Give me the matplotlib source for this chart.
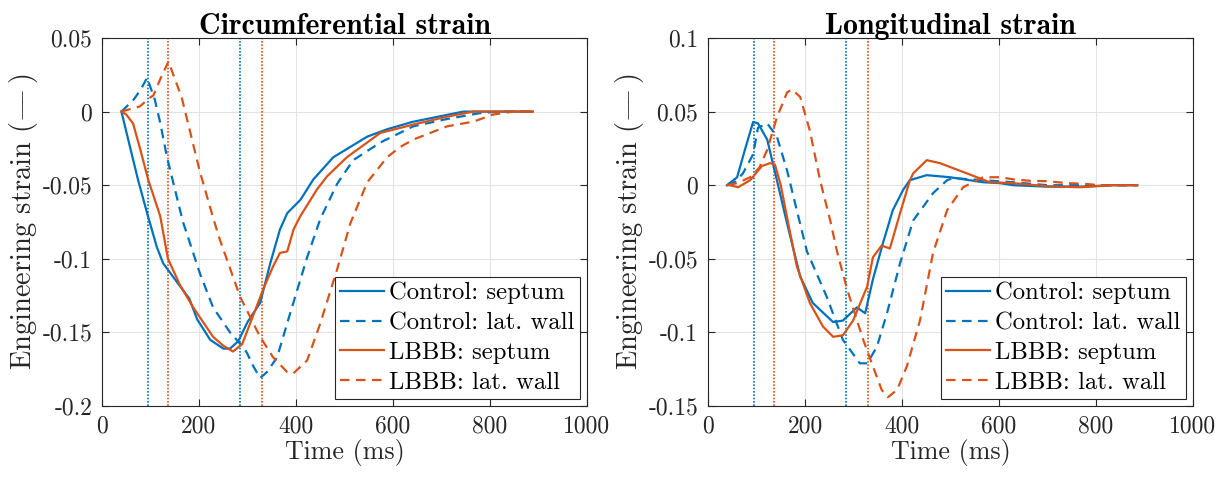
import matplotlib
matplotlib.use("Agg")
import matplotlib.pyplot as plt
from matplotlib.ticker import FuncFormatter

# --- data ---
# circumferential strain
circ_ctrl_sep_t = [40, 57, 74, 93, 100, 113, 126, 155, 180, 196, 223, 250, 264, 281, 300, 326, 347, 367, 382, 409, 436, 477, 547, 588, 640, 700, 745, 888]
circ_ctrl_sep = [0, -0.023, -0.046, -0.069, -0.077, -0.092, -0.103, -0.116, -0.127, -0.141, -0.155, -0.161, -0.161, -0.156, -0.143, -0.13, -0.103, -0.08, -0.069, -0.06, -0.046, -0.031, -0.017, -0.012, -0.007, -0.003, 0, 0]

circ_ctrl_lat_t = [40, 65, 80, 93, 109, 120, 134, 167, 202, 229, 264, 291, 299, 312, 326, 340, 361, 388, 423, 450, 485, 518, 574, 642, 712, 780, 821, 888]
circ_ctrl_lat = [0, 0.008, 0.015, 0.023, 0.008, -0.0075, -0.031, -0.075, -0.11, -0.133, -0.150, -0.160, -0.164, -0.173, -0.181, -0.177, -0.167, -0.137, -0.099, -0.073, -0.049, -0.033, -0.021, -0.010, -0.005, -0.001, 0, 0]

circ_lbbb_sep_t = [40, 50, 64, 80, 95, 120, 136, 161, 188, 229, 250, 270, 289, 310, 332, 353, 367, 382, 395, 409, 443, 464, 505, 574, 642, 712, 766, 888]
circ_lbbb_sep = [0, -0.002, -0.008, -0.027, -0.046, -0.071, -0.1, -0.118, -0.133, -0.153, -0.159, -0.163, -0.158, -0.14, -0.121, -0.105, -0.096, -0.095, -0.08, -0.071, -0.053, -0.044, -0.031, -0.0145, -0.0088, -0.0034, 0, 0]

circ_lbbb_lat_t = [40, 78, 99, 106, 120, 137, 164, 202, 229, 243, 285, 326, 353, 382, 394, 423, 450, 485, 512, 547, 588, 615, 642, 712, 766, 807, 848, 888]
circ_lbbb_lat = [0, 0.0035, 0.0095, 0.011, 0.022, 0.034, 0.010, -0.041, -0.072, -0.087, -0.126, -0.153, -0.167, -0.177, -0.178, -0.169, -0.144, -0.107, -0.076, -0.048, -0.031, -0.024, -0.019, -0.010, -0.0068, -0.002, 0, 0]

# longitudinal strain
long_ctrl_sep_t = [39, 60, 76, 93, 103, 122, 142, 163, 190, 216, 245, 258, 278, 307, 324, 340, 361, 381, 402, 416, 451, 499, 567, 602, 629, 699, 768, 835, 885]
long_ctrl_sep = [0, 0.0054, 0.024, 0.043, 0.042, 0.031, 0.0034, -0.026, -0.062, -0.080, -0.089, -0.093, -0.092, -0.083, -0.087, -0.064, -0.039, -0.017, -0.0034, 0.0034, 0.0068, 0.0054, 0.002, 0.0014, 0, -0.001, -0.001, 0, 0]

long_ctrl_lat_t = [40, 55, 72, 93, 103, 122, 142, 163, 183, 204, 245, 278, 313, 328, 348, 369, 396, 423, 464, 493, 505, 567, 629, 700, 885]
long_ctrl_lat = [0, 0.002, 0.008, 0.021, 0.039, 0.042, 0.033, 0.010, -0.017, -0.045, -0.076, -0.105, -0.121, -0.121, -0.110, -0.087, -0.053, -0.024, -0.0054, 0.0034, 0.0048, 0.0034, 0.002, 0.0, 0]

long_lbbb_sep_t = [40, 45, 62, 87, 111, 128, 138, 150, 163, 183, 210, 237, 258, 278, 299, 328, 340, 358, 375, 396, 416, 423, 451, 478, 534, 581, 629, 699, 767, 835, 885]
long_lbbb_sep = [0, 0, -0.0014, 0.0034, 0.013, 0.015, 0.014, 0.0, -0.022, -0.055, -0.080, -0.096, -0.103, -0.102, -0.092, -0.069, -0.049, -0.041, -0.043, -0.019, 0.003, 0.008, 0.017, 0.015, 0.008, 0.002, 0.0014, -0.0007, -0.0014, 0, 0]

long_lbbb_lat_t = [40, 60, 87, 106, 122, 142, 163, 173, 190, 210, 231, 252, 266, 287, 320, 340, 358, 371, 390, 410, 437, 464, 493, 526, 567, 602, 629, 663, 699, 740, 774, 808, 885]
long_lbbb_lat = [0, 0.0014, 0.0054, 0.012, 0.024, 0.046, 0.063, 0.065, 0.060, 0.037, 0.0034, -0.024, -0.045, -0.071, -0.105, -0.123, -0.139, -0.144, -0.139, -0.123, -0.092, -0.046, -0.017, -0.0014, 0.0054, 0.0054, 0.004, 0.003, 0.0027, 0.0014, 0.001, 0, 0]

# event times (vertical dotted lines)
ctrl_events = [95, 284]
lbbb_events = [137, 329]

titles = ["Circumferential strain", "Longitudinal strain"]
legend_labels = ["Control: septum", "Control: lat. wall", "LBBB: septum", "LBBB: lat. wall"]
yticks_circ = [0.05, 0, -0.05, -0.1, -0.15, -0.2]
yticks_long = [0.1, 0.05, 0, -0.05, -0.1, -0.15]
xticks = [0, 200, 400, 600, 800, 1000]

blue = "#0072BD"
orange = "#D95319"
axcol = "#262626"

plt.rcParams["font.family"] = "cmr10"
plt.rcParams["mathtext.fontset"] = "cm"
plt.rcParams["axes.unicode_minus"] = False

fig = plt.figure(figsize=(12.29, 4.79), dpi=100)
ax1 = fig.add_axes([0.083, 0.1524, 0.3946, 0.7683])
ax2 = fig.add_axes([0.5761, 0.1524, 0.3946, 0.7683])

panels = [
    (ax1, titles[0], [circ_ctrl_sep_t, circ_ctrl_lat_t, circ_lbbb_sep_t, circ_lbbb_lat_t],
     [circ_ctrl_sep, circ_ctrl_lat, circ_lbbb_sep, circ_lbbb_lat], yticks_circ),
    (ax2, titles[1], [long_ctrl_sep_t, long_ctrl_lat_t, long_lbbb_sep_t, long_lbbb_lat_t],
     [long_ctrl_sep, long_ctrl_lat, long_lbbb_sep, long_lbbb_lat], yticks_long),
]

dash = (0, (4.3, 2.9))
styles = [(blue, "-"), (blue, dash), (orange, "-"), (orange, dash)]

for ax, title, ts, ys, yt in panels:
    for ev in ctrl_events:
        ax.axvline(ev, color=blue, linestyle=(0, (1, 1)), linewidth=1.2)
    for ev in lbbb_events:
        ax.axvline(ev, color=orange, linestyle=(0, (1, 1)), linewidth=1.2)
    lines = []
    for (c, ls), t, y, lab in zip(styles, ts, ys, legend_labels):
        l, = ax.plot(t, y, color=c, linestyle=ls, linewidth=1.6, label=lab)
        lines.append(l)
    ax.set_xlim(0, 1000)
    ax.set_ylim(min(yt), max(yt))
    ax.set_xticks(xticks)
    ax.set_yticks(yt)
    ax.xaxis.set_major_formatter(FuncFormatter(lambda v, p: f"{v:g}"))
    ax.yaxis.set_major_formatter(FuncFormatter(lambda v, p: f"{v:g}"))
    ax.grid(True, color="#e3e3e3", linewidth=0.8)
    ax.set_axisbelow(True)
    ax.tick_params(direction="in", length=5, width=0.8, top=True, right=True,
                   labelsize=17, colors=axcol, pad=7)
    for s in ax.spines.values():
        s.set_color(axcol)
        s.set_linewidth(0.8)
    ax.set_xlabel("Time (ms)", fontsize=18.7, color=axcol, labelpad=1)
    ax.set_ylabel(r"Engineering strain ($-\!\!\!\!-$)", fontsize=20.5, color=axcol, labelpad=2)
    ax.set_title(title, fontsize=21.5, family="cmb10", pad=3)
    leg = ax.legend(handles=lines, loc="lower right", fontsize=17.8, fancybox=False,
                    edgecolor=axcol, framealpha=1, handlelength=1.8, handletextpad=0.2,
                    borderpad=0.2, labelspacing=0.3, borderaxespad=0.3)
    leg.get_frame().set_linewidth(0.8)

fig.savefig("out.png", dpi=100)
